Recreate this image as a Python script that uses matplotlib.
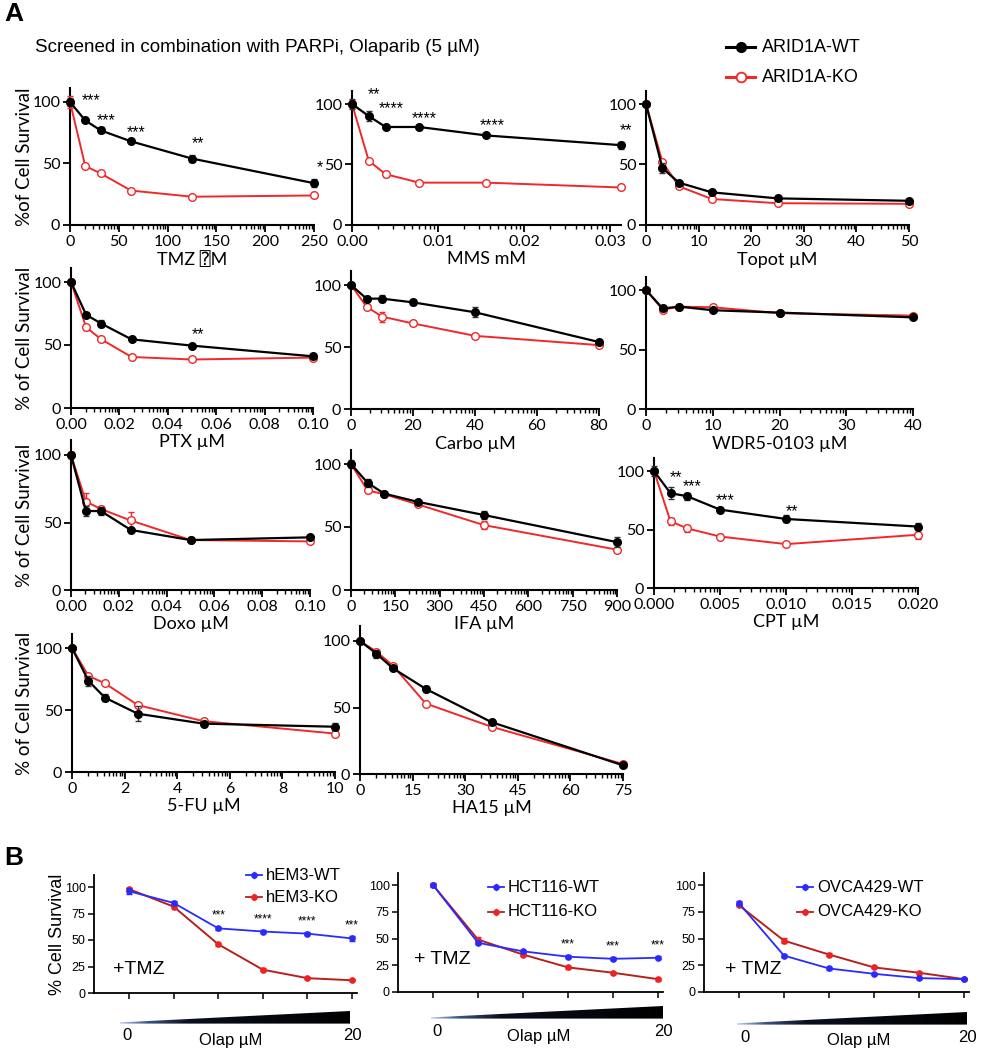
import numpy as np
import matplotlib
matplotlib.use('Agg')
import matplotlib.pyplot as plt
from matplotlib.patches import Polygon
from matplotlib.colors import LinearSegmentedColormap
from matplotlib import font_manager as fm

# ---------------- data: panel A ----------------
tmz_x = [0, 15.625, 31.25, 62.5, 125, 250]
tmz_wt = [100, 85, 77, 68, 54, 34]
tmz_wt_err = [3, 1.5, 2.5, 1.5, 3, 3]
tmz_ko = [100, 48, 42, 28, 23, 24]
tmz_ko_err = [5, 1.5, 1.5, 1.5, 1, 1.5]
tmz_stars = ['', '***', '***', '***', '**', '*']
tmz_ticks = [0, 50, 100, 150, 200, 250]

mms_x = [0, 0.001953, 0.003906, 0.0078125, 0.015625, 0.03125]
mms_wt = [100, 90, 81, 81, 74, 66]
mms_wt_err = [4, 4, 2, 1.5, 1.5, 3]
mms_ko = [100, 53, 42, 35, 35, 31]
mms_ko_err = [3, 1.5, 2, 1, 1, 1]
mms_stars = ['', '**', '****', '****', '****', '**']
mms_ticks = [0.00, 0.01, 0.02, 0.03]

topo_x = [0, 3.125, 6.25, 12.5, 25, 50]
topo_wt = [100, 47, 35, 27, 22, 20]
topo_wt_err = [1, 4, 1, 1, 1, 1.5]
topo_ko = [100, 52, 32, 21.5, 18, 17.5]
topo_ko_err = [1, 1, 1, 1, 1, 1]
topo_stars = ['', '', '', '', '', '']
topo_ticks = [0, 10, 20, 30, 40, 50]

ptx_x = [0, 0.00625, 0.0125, 0.025, 0.05, 0.1]
ptx_wt = [100, 74, 67, 54.5, 49.5, 41]
ptx_wt_err = [1, 1.5, 2.5, 1, 1, 1]
ptx_ko = [100, 64, 54.5, 40.5, 38.5, 40]
ptx_ko_err = [2, 2, 1.5, 1, 1, 1.5]
ptx_stars = ['', '', '', '', '**', '']
ptx_ticks = [0.00, 0.02, 0.04, 0.06, 0.08, 0.10]

carbo_x = [0, 5, 10, 20, 40, 80]
carbo_wt = [100, 89, 89, 86, 78, 54]
carbo_wt_err = [1, 2, 3, 2, 4, 1]
carbo_ko = [100, 82.5, 74.5, 69, 59, 51.5]
carbo_ko_err = [1, 1.5, 4, 1, 1, 1]
carbo_stars = ['', '', '', '', '', '']
carbo_ticks = [0, 20, 40, 60, 80]

wdr_x = [0, 2.5, 5, 10, 20, 40]
wdr_wt = [100, 84.5, 86, 83, 81, 77]
wdr_wt_err = [2, 1, 1, 1, 1, 1]
wdr_ko = [100, 83.5, 86, 85.5, 80.5, 78.5]
wdr_ko_err = [1, 1, 1, 1, 1, 1]
wdr_stars = ['', '', '', '', '', '']
wdr_ticks = [0, 10, 20, 30, 40]

doxo_x = [0, 0.00625, 0.0125, 0.025, 0.05, 0.1]
doxo_wt = [100, 58.5, 58.5, 44.5, 37, 39]
doxo_wt_err = [2, 4, 3, 1, 1, 1]
doxo_ko = [100, 65.5, 60, 51.5, 37, 36]
doxo_ko_err = [2, 6, 2, 6, 1, 1]
doxo_stars = ['', '', '', '', '', '']
doxo_ticks = [0.00, 0.02, 0.04, 0.06, 0.08, 0.10]

ifa_x = [0, 56.25, 112.5, 225, 450, 900]
ifa_wt = [100, 85, 76.5, 70, 59.5, 38]
ifa_wt_err = [3, 3, 1.5, 1, 3, 4]
ifa_ko = [100, 79, 76, 68, 51.5, 32]
ifa_ko_err = [1, 2, 1, 1, 3, 1.5]
ifa_stars = ['', '', '', '', '', '']
ifa_ticks = [0, 150, 300, 450, 600, 750, 900]

cpt_x = [0, 0.00125, 0.0025, 0.005, 0.01, 0.02]
cpt_wt = [100, 81, 78.5, 67, 59, 52.5]
cpt_wt_err = [4, 5, 3, 2, 3, 3]
cpt_ko = [100, 57, 51, 44, 37.5, 45.5]
cpt_ko_err = [2, 3, 3, 2, 1, 4]
cpt_stars = ['', '**', '***', '***', '**', '']
cpt_ticks = [0.000, 0.005, 0.010, 0.015, 0.020]

fu_x = [0, 0.625, 1.25, 2.5, 5, 10]
fu_wt = [100, 73.5, 60, 47, 39, 36.5]
fu_wt_err = [1, 4, 3, 6, 2, 3]
fu_ko = [100, 77.5, 71.5, 54, 41, 31]
fu_ko_err = [1, 1, 1, 1, 2, 1]
fu_stars = ['', '', '', '', '', '']
fu_ticks = [0, 2, 4, 6, 8, 10]

ha_x = [0, 4.6875, 9.375, 18.75, 37.5, 75]
ha_wt = [100, 90.5, 79.5, 64, 39, 6.5]
ha_wt_err = [1, 3, 1.5, 2, 1, 1]
ha_ko = [100, 92, 81.5, 53, 35.5, 7.5]
ha_ko_err = [1, 1, 1, 1, 1, 1]
ha_stars = ['', '', '', '', '', '']
ha_ticks = [0, 15, 30, 45, 60, 75]

# ---------------- data: panel B ----------------
olap_steps = [0, 1, 2, 3, 4, 5]
hem3_wt = [96, 85, 61, 58, 56, 51.5]
hem3_wt_err = [3, 1.5, 1.5, 1.5, 1.5, 2.5]
hem3_ko = [98, 81.5, 46, 22, 14, 12]
hem3_ko_err = [1.5, 1.5, 1.5, 1.5, 1, 1]
hem3_stars = ['', '', '***', '****', '****', '***']

hct_wt = [100, 46, 38, 33, 31, 32]
hct_wt_err = [1.5, 1.5, 1.5, 1.5, 1.5, 1.5]
hct_ko = [100, 49, 35, 23, 18, 12]
hct_ko_err = [1, 2, 1, 1.5, 1, 1.5]
hct_stars = ['', '', '', '***', '***', '***']

ovca_wt = [83, 34, 22, 17, 13, 12]
ovca_wt_err = [2, 1.5, 1.5, 1, 1, 1]
ovca_ko = [81, 48, 35, 23, 18, 12]
ovca_ko_err = [1, 2.5, 1.5, 1, 1, 1]
ovca_stars = ['', '', '', '', '', '']

# ---------------- fonts ----------------
avail = {f.name for f in fm.fontManager.ttflist}
NARROW = ['Liberation Sans Narrow'] if 'Liberation Sans Narrow' in avail else ['Liberation Sans']
NARROW = NARROW + ['DejaVu Sans']
TICKF = ['Lato', 'DejaVu Sans']
ARIAL = ['Liberation Sans', 'DejaVu Sans']

W, H = 994, 1050
fig = plt.figure(figsize=(W / 100, H / 100), dpi=100)


def add_ax(left, right, bottom, top):
    return fig.add_axes([left / W, 1 - bottom / H, (right - left) / W, (bottom - top) / H])


def log_minor(step, xmax):
    locs = []
    a = 0.0
    while a < xmax - 1e-12:
        for k in range(2, 10):
            v = a + step * np.log10(k)
            if v <= xmax + 1e-12:
                locs.append(v)
        a += step
    return locs


BLACK = '#000000'
RED = '#f02828'

# star label vertical offsets (layout, in y-axis units above the WT point)
NO_OFF = [0, 0, 0, 0, 0, 0]
panelsA = [
    dict(x=tmz_x, wt=tmz_wt, wte=tmz_wt_err, ko=tmz_ko, koe=tmz_ko_err, st=tmz_stars, ticks=tmz_ticks,
         soff=[0, 16, 8, 7, 12, 13],
         fmt='{:.0f}', xlabel='TMZ \u2370M', p0=70, pl=314, y0=225, y100=102, ylabel='%of Cell Survival'),
    dict(x=mms_x, wt=mms_wt, wte=mms_wt_err, ko=mms_ko, koe=mms_ko_err, st=mms_stars, ticks=mms_ticks,
         soff=[0, 18, 15, 7, 8, 12],
         fmt='{:.2f}', xlabel='MMS mM', p0=352, pl=610, y0=225, y100=104, ylabel=None),
    dict(x=topo_x, wt=topo_wt, wte=topo_wt_err, ko=topo_ko, koe=topo_ko_err, st=topo_stars, ticks=topo_ticks,
         soff=NO_OFF,
         fmt='{:.0f}', xlabel='Topot \u00b5M', p0=646, pl=909, y0=225, y100=104, ylabel=None),
    dict(x=ptx_x, wt=ptx_wt, wte=ptx_wt_err, ko=ptx_ko, koe=ptx_ko_err, st=ptx_stars, ticks=ptx_ticks,
         soff=[0, 0, 0, 0, 9, 0],
         fmt='{:.2f}', xlabel='PTX \u00b5M', p0=71, pl=313, y0=408, y100=282, ylabel='% of Cell Survival'),
    dict(x=carbo_x, wt=carbo_wt, wte=carbo_wt_err, ko=carbo_ko, koe=carbo_ko_err, st=carbo_stars, ticks=carbo_ticks,
         soff=NO_OFF,
         fmt='{:.0f}', xlabel='Carbo \u00b5M', p0=351, pl=599, y0=409, y100=285, ylabel=None),
    dict(x=wdr_x, wt=wdr_wt, wte=wdr_wt_err, ko=wdr_ko, koe=wdr_ko_err, st=wdr_stars, ticks=wdr_ticks,
         soff=NO_OFF,
         fmt='{:.0f}', xlabel='WDR5-0103 \u00b5M', p0=646, pl=913, y0=409, y100=290, ylabel=None),
    dict(x=doxo_x, wt=doxo_wt, wte=doxo_wt_err, ko=doxo_ko, koe=doxo_ko_err, st=doxo_stars, ticks=doxo_ticks,
         soff=NO_OFF,
         fmt='{:.2f}', xlabel='Doxo \u00b5M', p0=71, pl=310, y0=590, y100=455, ylabel='% of Cell Survival'),
    dict(x=ifa_x, wt=ifa_wt, wte=ifa_wt_err, ko=ifa_ko, koe=ifa_ko_err, st=ifa_stars, ticks=ifa_ticks,
         soff=NO_OFF,
         fmt='{:.0f}', xlabel='IFA \u00b5M', p0=351, pl=617, y0=590, y100=464, ylabel=None),
    dict(x=cpt_x, wt=cpt_wt, wte=cpt_wt_err, ko=cpt_ko, koe=cpt_ko_err, st=cpt_stars, ticks=cpt_ticks,
         soff=[0, 13, 8, 8, 6, 0],
         fmt='{:.3f}', xlabel='CPT \u00b5M', p0=654, pl=918, y0=588, y100=471, ylabel=None),
    dict(x=fu_x, wt=fu_wt, wte=fu_wt_err, ko=fu_ko, koe=fu_ko_err, st=fu_stars, ticks=fu_ticks,
         soff=NO_OFF,
         fmt='{:.0f}', xlabel='5-FU \u00b5M', p0=72, pl=335, y0=772, y100=648, ylabel='% of Cell Survival'),
    dict(x=ha_x, wt=ha_wt, wte=ha_wt_err, ko=ha_ko, koe=ha_ko_err, st=ha_stars, ticks=ha_ticks,
         soff=NO_OFF,
         fmt='{:.0f}', xlabel='HA15 \u00b5M', p0=360, pl=623, y0=774, y100=641, ylabel=None),
]

ylabel_specs = []
YTOP = 111
for P in panelsA:
    last = P['ticks'][-1]
    xmax = max(last, P['x'][-1])
    right = P['p0'] + (xmax / last) * (P['pl'] - P['p0'])
    top = P['y0'] - (YTOP / 100) * (P['y0'] - P['y100'])
    ax = add_ax(P['p0'], right, P['y0'], top)
    ax.set_xlim(0, xmax)
    ax.set_ylim(0, YTOP)
    ax.patch.set_alpha(0)
    for s in ('top', 'right'):
        ax.spines[s].set_visible(False)
    for s in ('left', 'bottom'):
        ax.spines[s].set_linewidth(1.5)
    ax.set_yticks([0, 50, 100])
    ax.set_yticklabels(['0', '50', '100'], fontsize=11.5, family=TICKF)
    ax.set_xticks(P['ticks'])
    ax.set_xticklabels([P['fmt'].format(t) for t in P['ticks']], fontsize=11.5, family=TICKF)
    step = P['ticks'][1] - P['ticks'][0]
    ax.set_xticks(log_minor(step, xmax), minor=True)
    ax.tick_params(axis='both', which='major', direction='out', length=5, width=1.3, pad=2, color='black')
    ax.tick_params(axis='x', which='minor', direction='out', length=3, width=1.0)
    ax.set_xlabel(P['xlabel'], fontsize=13, family=TICKF + ['DejaVu Sans Mono'], labelpad=2)

    ax.errorbar(P['x'], P['ko'], yerr=P['koe'], fmt='none', ecolor=RED, elinewidth=1,
                capsize=2.5, capthick=1, clip_on=False, zorder=3)
    ax.plot(P['x'], P['ko'], color=RED, lw=1.4, marker='o', ms=5.5, mfc='white', mec=RED,
            mew=1.0, clip_on=False, zorder=4)
    ax.errorbar(P['x'], P['wt'], yerr=P['wte'], fmt='none', ecolor='#333333', elinewidth=1,
                capsize=2.5, capthick=1, clip_on=False, zorder=5)
    ax.plot(P['x'], P['wt'], color=BLACK, lw=1.6, marker='o', ms=5.5, mfc=BLACK, mec=BLACK,
            clip_on=False, zorder=6)
    for xv, yv, off, s in zip(P['x'], P['wt'], P['soff'], P['st']):
        if s:
            ax.annotate(s, xy=(xv, yv + off), xytext=(4, 0), textcoords='offset points',
                        ha='center', va='center', fontsize=11.5, family=ARIAL, annotation_clip=False)
    if P['ylabel']:
        ylabel_specs.append((25, (top + P['y0']) / 2, P['ylabel']))

# ---------------- panel B ----------------
BLUE = '#2a2aff'
REDB = '#ee2222'
REDLINE = '#b8201c'

panelsB = [
    dict(wt=hem3_wt, wte=hem3_wt_err, ko=hem3_ko, koe=hem3_ko_err, st=hem3_stars,
         names=('hEM3-WT', 'hEM3-KO'), yax=94, p0=129, p5=352, y0=993, y100=887,
         leg=(254, 875, 897), tmz=('+TMZ', 113, 969), wedge=(120, 350, 1023, 1011), lab=(127, 352, 231, 1036)),
    dict(wt=hct_wt, wte=hct_wt_err, ko=hct_ko, koe=hct_ko_err, st=hct_stars,
         names=('HCT116-WT', 'HCT116-KO'), yax=398, p0=433, p5=658, y0=992, y100=885,
         leg=(496, 887, 912), tmz=('+ TMZ', 414, 960), wedge=(431, 663, 1018, 1006), lab=(437, 663, 539, 1032)),
    dict(wt=ovca_wt, wte=ovca_wt_err, ko=ovca_ko, koe=ovca_ko_err, st=ovca_stars,
         names=('OVCA429-WT', 'OVCA429-KO'), yax=704, p0=739, p5=964, y0=992, y100=885,
         leg=(805, 887, 912), tmz=('+ TMZ', 725, 970), wedge=(737, 967, 1024, 1012), lab=(745, 967, 859, 1037)),
]

ov = fig.add_axes([0, 0, 1, 1])
ov.set_xlim(0, W)
ov.set_ylim(H, 0)
ov.axis('off')

cmap = LinearSegmentedColormap.from_list(
    'wedge', [(0.0, '#b9c8e4'), (0.12, '#3b5585'), (0.3, '#0a0f1e'), (1.0, '#000000')])

for i, P in enumerate(panelsB):
    n = len(olap_steps) - 1
    ppu = (P['p5'] - P['p0']) / n
    xl = -(P['p0'] - P['yax']) / ppu
    xr = n + 0.12
    right = P['p0'] + xr * ppu
    top = P['y0'] - 1.11 * (P['y0'] - P['y100'])
    ax = add_ax(P['yax'], right, P['y0'], top)
    ax.set_xlim(xl, xr)
    ax.set_ylim(0, 111)
    ax.patch.set_alpha(0)
    for s in ('top', 'right'):
        ax.spines[s].set_visible(False)
    for s in ('left', 'bottom'):
        ax.spines[s].set_linewidth(1.3)
    ax.set_yticks([0, 25, 50, 75, 100])
    ax.set_yticklabels(['0', '25', '50', '75', '100'], fontsize=9, family=NARROW)
    ax.set_xticks(olap_steps)
    ax.set_xticklabels([])
    ax.tick_params(axis='both', direction='out', length=4, width=1.1, pad=2)
    ax.errorbar(olap_steps, P['ko'], yerr=P['koe'], fmt='none', ecolor=REDB, elinewidth=1,
                capsize=2, clip_on=False, zorder=3)
    ax.plot(olap_steps, P['ko'], color=REDLINE, lw=1.4, marker='o', ms=3.8, mfc=REDB, mec=REDB,
            clip_on=False, zorder=4)
    ax.errorbar(olap_steps, P['wt'], yerr=P['wte'], fmt='none', ecolor=BLUE, elinewidth=1,
                capsize=2, clip_on=False, zorder=5)
    ax.plot(olap_steps, P['wt'], color=BLUE, lw=1.3, marker='o', ms=3.8, mfc=BLUE, mec=BLUE,
            clip_on=False, zorder=6)
    for xv, yv, s in zip(olap_steps, P['wt'], P['st']):
        if s:
            ax.annotate(s, xy=(xv, yv), xytext=(0, 9), textcoords='offset points',
                        ha='center', va='center', fontsize=8.5, family=ARIAL, annotation_clip=False)
    if i == 0:
        ov.text(57, (top + P['y0']) / 2, '% Cell Survival', rotation=90, ha='center', va='center',
                fontsize=13, family=ARIAL)
    # legend
    lx, ly1, ly2 = P['leg']
    for yy, col, lcol, name in ((ly1, BLUE, BLUE, P['names'][0]), (ly2, REDB, REDLINE, P['names'][1])):
        ov.plot([lx - 8, lx + 8], [yy, yy], color=lcol, lw=1.3)
        ov.plot([lx], [yy], marker='o', ms=3.8, color=col)
        ov.plot([lx, lx], [yy - 3, yy + 3], color=col, lw=1)
        ov.text(lx + 12, yy, name, ha='left', va='center', fontsize=12, family=NARROW)
    t, tx, ty = P['tmz']
    ov.text(tx, ty, t, ha='left', va='center', fontsize=14, family=NARROW)
    # wedge
    wl, wr, wb, wt_ = P['wedge']
    poly = Polygon([(wl, wb - 0.6), (wr, wt_), (wr, wb + 0.6), (wl, wb + 0.6)], closed=True,
                   facecolor='none', edgecolor='none')
    ov.add_patch(poly)
    grad = np.linspace(0, 1, 256)[None, :]
    im = ov.imshow(grad, cmap=cmap, extent=(wl, wr, wb + 1, wt_ - 1), aspect='auto',
                   interpolation='bilinear', zorder=1)
    im.set_clip_path(poly)
    l0, l20, lc, ly = P['lab']
    ov.text(l0, ly, '0', ha='center', va='center', fontsize=12, family=NARROW)
    ov.text(l20, ly, '20', ha='center', va='center', fontsize=12, family=NARROW)
    ov.text(lc, ly + 4, 'Olap \u00b5M', ha='center', va='center', fontsize=12, family=NARROW)

ov.set_xlim(0, W)
ov.set_ylim(H, 0)

# panel A y labels
for x, y, s in ylabel_specs:
    ov.text(x, y, s, rotation=90, ha='center', va='center', fontsize=13.5, family=TICKF)

# header texts and legend
ov.text(4, 14, 'A', ha='left', va='center', fontsize=19, fontweight='bold', family=ARIAL)
ov.text(4, 858, 'B', ha='left', va='center', fontsize=19, fontweight='bold', family=ARIAL)
ov.text(35, 47, 'Screened in combination with PARPi, Olaparib (5 \u00b5M)', ha='left', va='center',
        fontsize=13.5, family=NARROW)
ov.plot([726, 755], [47, 47], color=BLACK, lw=2.2)
ov.plot([740.5], [47], marker='o', ms=7, color=BLACK)
ov.text(762, 47, 'ARID1A-WT', ha='left', va='center', fontsize=13, family=NARROW)
ov.plot([726, 755], [77, 77], color=RED, lw=2.2)
ov.plot([740.5], [77], marker='o', ms=7, mfc='white', mec=RED, mew=1.3)
ov.text(762, 77, 'ARID1A-KO', ha='left', va='center', fontsize=13, family=NARROW)

fig.savefig('out.png', dpi=100)
